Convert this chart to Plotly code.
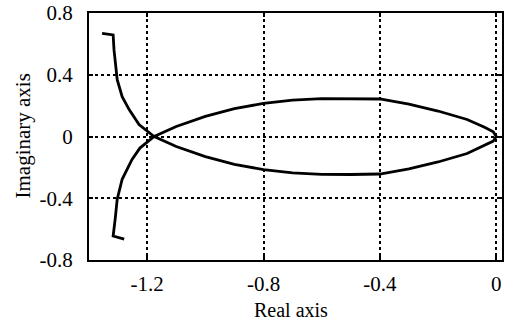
import plotly.graph_objects as go

# Nyquist-like curve (real, imaginary)
real_part = [-1.355, -1.317, -1.314, -1.307, -1.303, -1.286, -1.262, -1.228, -1.176,
             -1.1, -1.0, -0.9, -0.8, -0.7, -0.6, -0.5, -0.4, -0.3, -0.2, -0.1, -0.04, -0.01, 0.0,
             -0.01, -0.04, -0.1, -0.2, -0.3, -0.4, -0.5, -0.6, -0.7, -0.8, -0.9, -1.0, -1.1,
             -1.176, -1.225, -1.252, -1.286, -1.303, -1.31, -1.317, -1.279]
imag_part = [0.668, 0.658, 0.561, 0.452, 0.368, 0.258, 0.174, 0.077, 0.0,
             -0.065, -0.13, -0.18, -0.215, -0.235, -0.245, -0.246, -0.243, -0.21, -0.165, -0.11, -0.06, -0.03, 0.0,
             0.03, 0.06, 0.11, 0.165, 0.21, 0.243, 0.246, 0.245, 0.235, 0.215, 0.18, 0.13, 0.065,
             0.0, -0.075, -0.148, -0.277, -0.406, -0.535, -0.645, -0.665]

x_ticks = [-1.2, -0.8, -0.4, 0]
x_tick_labels = ["-1.2", "-0.8", "-0.4", "0"]
y_ticks = [-0.8, -0.4, 0, 0.4, 0.8]
y_tick_labels = ["-0.8", "-0.4", "0", "0.4", "0.8"]
x_title = "Real axis"
y_title = "Imaginary axis"

font = "Liberation Serif"

fig = go.Figure()
fig.add_trace(go.Scatter(x=real_part, y=imag_part, mode="lines",
                         line=dict(color="black", width=2.8), showlegend=False))

axis_common = dict(
    showline=True, linecolor="black", linewidth=2, mirror="ticks",
    showgrid=True, gridcolor="black", griddash="dot", gridwidth=1.5,
    zeroline=False, ticks="inside", ticklen=4, tickcolor="black", tickwidth=1.5,
    tickfont=dict(family=font, size=21, color="black"), automargin=False,
    ticklabeloverflow="allow",
)

fig.update_xaxes(range=[-1.4, 0.02], tickvals=x_ticks, ticktext=x_tick_labels,
                 ticklabelstandoff=4, **axis_common)
fig.update_yaxes(range=[-0.8, 0.8], tickvals=y_ticks, ticktext=y_tick_labels,
                 ticklabelstandoff=10, **axis_common)

fig.add_annotation(text=x_title, xref="paper", yref="paper", x=0.49, y=0,
                   xanchor="center", yanchor="middle", yshift=-50, showarrow=False,
                   font=dict(family=font, size=20, color="black"))
fig.add_annotation(text=y_title, xref="paper", yref="paper", x=0, y=0.5,
                   xanchor="center", yanchor="middle", xshift=-67, textangle=-90,
                   showarrow=False, font=dict(family=font, size=21, color="black"))

fig.update_layout(width=513, height=320, margin=dict(l=89, r=11, t=13, b=60),
                  plot_bgcolor="white", paper_bgcolor="white")

# remove the default 8px page margin so the figure fills the window
fig.write_html("out.html", config={"displayModeBar": False},
               post_script="document.body.style.margin='0';")
